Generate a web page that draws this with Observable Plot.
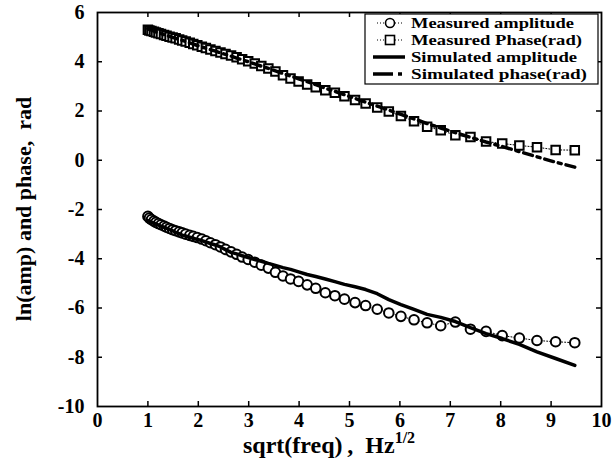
<!DOCTYPE html>
<html><head><meta charset="utf-8">
<script src="https://cdn.jsdelivr.net/npm/d3@7"></script>
<script src="https://cdn.jsdelivr.net/npm/@observablehq/plot@0.6"></script>
<style>body{margin:0;background:#fff}</style>
</head><body><div id="chart"></div>
<script>
// sqrt(freq) positions of the measurements (Hz^1/2)
const sqrtFreq = [1.00,1.03,1.07,1.12,1.16,1.21,1.26,1.32,1.37,1.43,1.49,1.55,1.62,1.68,1.75,1.83,1.90,1.98,2.07,2.15,2.24,2.34,2.44,2.54,2.65,2.76,2.87,2.99,3.12,3.25,3.39,3.53,3.68,3.83,3.99,4.16,4.33,4.52,4.71,4.90,5.11,5.32,5.55,5.78,6.02,6.28,6.54,6.81,7.10,7.40,7.71,8.03,8.37,8.72,9.09,9.47];
const measuredAmp = [-2.28,-2.35,-2.41,-2.47,-2.52,-2.57,-2.62,-2.67,-2.72,-2.77,-2.82,-2.86,-2.91,-2.95,-3.00,-3.05,-3.09,-3.14,-3.20,-3.27,-3.35,-3.43,-3.52,-3.62,-3.72,-3.82,-3.93,-4.03,-4.14,-4.26,-4.38,-4.55,-4.70,-4.82,-4.92,-5.06,-5.20,-5.38,-5.50,-5.64,-5.78,-5.90,-6.05,-6.20,-6.34,-6.48,-6.60,-6.72,-6.57,-6.86,-6.95,-7.12,-7.22,-7.32,-7.37,-7.41];
const measuredPhase = [5.30,5.27,5.25,5.22,5.19,5.16,5.13,5.09,5.06,5.02,4.98,4.95,4.90,4.86,4.82,4.77,4.72,4.67,4.61,4.56,4.50,4.44,4.38,4.31,4.25,4.18,4.10,4.02,3.93,3.83,3.73,3.60,3.45,3.32,3.20,3.08,2.96,2.84,2.74,2.60,2.45,2.30,2.14,1.98,1.80,1.58,1.36,1.22,1.02,0.94,0.76,0.68,0.60,0.53,0.42,0.41];
const simulatedAmp = [-2.45,-2.47,-2.52,-2.55,-2.60,-2.63,-2.68,-2.72,-2.76,-2.82,-2.86,-2.93,-2.98,-3.04,-3.07,-3.13,-3.16,-3.22,-3.26,-3.32,-3.38,-3.44,-3.52,-3.63,-3.74,-3.80,-3.88,-3.95,-4.03,-4.10,-4.19,-4.27,-4.36,-4.43,-4.53,-4.64,-4.72,-4.82,-4.93,-5.04,-5.14,-5.25,-5.42,-5.66,-5.86,-6.06,-6.26,-6.38,-6.55,-6.80,-7.04,-7.24,-7.48,-7.78,-8.05,-8.33];
const simulatedPhase = [5.35,5.31,5.28,5.24,5.21,5.18,5.14,5.10,5.07,5.03,4.99,4.95,4.91,4.87,4.82,4.77,4.72,4.66,4.60,4.55,4.49,4.43,4.36,4.30,4.23,4.15,4.08,4.00,3.91,3.82,3.73,3.63,3.52,3.42,3.31,3.19,3.07,2.93,2.80,2.66,2.51,2.36,2.20,2.04,1.86,1.68,1.49,1.31,1.12,0.93,0.74,0.56,0.35,0.14,-0.08,-0.28];
const xTicks = [0,1,2,3,4,5,6,7,8,9,10];
const yTicks = [-10,-8,-6,-4,-2,0,2,4,6];
const legendLabels = ["Measured amplitude","Measured Phase(rad)","Simulated amplitude","Simulated phase(rad)"];
const xLabel = "sqrt(freq)\u2009,\u2002Hz";
const xLabelSup = "1/2";
const yLabel = "ln(amp) and phase,\u2002rad";

const W = 612, H = 471, mL = 97, mR = 11, mT = 12, mB = 65;
const plotH = H - mT - mB, plotW = W - mL - mR;
const FONT = "'Liberation Serif','Times New Roman',serif";
const rows = sqrtFreq.map((x, i) => ({x, ma: measuredAmp[i], mp: measuredPhase[i], sa: simulatedAmp[i], sp: simulatedPhase[i]}));
const inner = xTicks.slice(1, -1), innerY = yTicks.slice(1, -1);

const chart = Plot.plot({
  width: W, height: H, marginLeft: mL, marginRight: mR, marginTop: mT, marginBottom: mB,
  style: {fontFamily: FONT, fontWeight: "bold", fontSize: "20px", color: "#000", background: "#fff"},
  x: {domain: [0, 10], ticks: xTicks, tickSize: 0, tickPadding: 6, tickFormat: d => String(d), label: null},
  y: {domain: [-10, 6], ticks: yTicks, tickSize: 0, tickPadding: 13, tickFormat: d => String(d), label: null},
  marks: [
    Plot.tickX(inner, {x: d => d, insetTop: plotH - 5, stroke: "#000", strokeWidth: 1.5}),
    Plot.tickX(inner, {x: d => d, insetBottom: plotH - 5, stroke: "#000", strokeWidth: 1.5}),
    Plot.tickY(innerY, {y: d => d, insetRight: plotW - 5, stroke: "#000", strokeWidth: 1.5}),
    Plot.tickY(innerY, {y: d => d, insetLeft: plotW - 5, stroke: "#000", strokeWidth: 1.5}),
    Plot.line(rows, {x: "x", y: "ma", stroke: "#000", strokeWidth: 1, strokeDasharray: "1,2"}),
    Plot.line(rows, {x: "x", y: "mp", stroke: "#000", strokeWidth: 1, strokeDasharray: "1,2"}),
    Plot.dot(rows, {x: "x", y: "ma", r: 4.8, symbol: "circle", stroke: "#000", fill: "#fff", strokeWidth: 2}),
    Plot.dot(rows, {x: "x", y: "mp", r: 4.8, symbol: "square", stroke: "#000", fill: "#fff", strokeWidth: 2}),
    Plot.line(rows, {x: "x", y: "sa", stroke: "#000", strokeWidth: 3.5}),
    Plot.line(rows, {x: "x", y: "sp", stroke: "#000", strokeWidth: 3.5, strokeDasharray: "9,5,3,5"}),
    Plot.frame({stroke: "#000", strokeWidth: 1.8})
  ]
});
document.getElementById("chart").appendChild(chart);

const svg = d3.select(chart);
// axis titles
const xt = svg.append("text").attr("x", 243).attr("y", 453).attr("text-anchor", "start").attr("font-family", FONT)
  .attr("font-weight", "bold").attr("font-size", 24).attr("fill", "#000");
xt.append("tspan").text(xLabel);
xt.append("tspan").attr("dy", -10).attr("font-size", 16).text(xLabelSup);
svg.append("text").attr("transform", "translate(31,209) rotate(-90)").attr("text-anchor", "middle")
  .attr("font-family", FONT).attr("font-weight", "bold").attr("font-size", 22).attr("fill", "#000").text(yLabel);

// legend
const lg = svg.append("g");
lg.append("rect").attr("x", 365).attr("y", 14).attr("width", 233).attr("height", 70)
  .attr("fill", "#fff").attr("stroke", "#000").attr("stroke-width", 1.2);
const rowY = [23, 40, 57, 74];
const rowLen = [163, 171, 166, 176];
legendLabels.forEach((t, i) => {
  const y = rowY[i];
  if (i < 2) {
    lg.append("line").attr("x1", 377).attr("x2", 403).attr("y1", y).attr("y2", y)
      .attr("stroke", "#000").attr("stroke-width", 1).attr("stroke-dasharray", "1,2");
    if (i === 0) lg.append("circle").attr("cx", 390).attr("cy", y).attr("r", 4.5)
      .attr("fill", "#fff").attr("stroke", "#000").attr("stroke-width", 1.6);
    else lg.append("rect").attr("x", 385.5).attr("y", y - 4.5).attr("width", 9).attr("height", 9)
      .attr("fill", "#fff").attr("stroke", "#000").attr("stroke-width", 1.6);
  } else if (i === 2) {
    lg.append("line").attr("x1", 373).attr("x2", 405).attr("y1", y).attr("y2", y)
      .attr("stroke", "#000").attr("stroke-width", 3.5);
  } else {
    lg.append("line").attr("x1", 373).attr("x2", 405).attr("y1", y).attr("y2", y)
      .attr("stroke", "#000").attr("stroke-width", 3.5).attr("stroke-dasharray", "20,5,4,20");
  }
  lg.append("text").attr("x", 411).attr("y", y + 5).attr("text-anchor", "start").attr("font-family", FONT)
    .attr("font-weight", "bold").attr("font-size", 15.5).attr("textLength", rowLen[i])
    .attr("lengthAdjust", "spacingAndGlyphs").attr("fill", "#000").text(t);
});
</script>
</body></html>
